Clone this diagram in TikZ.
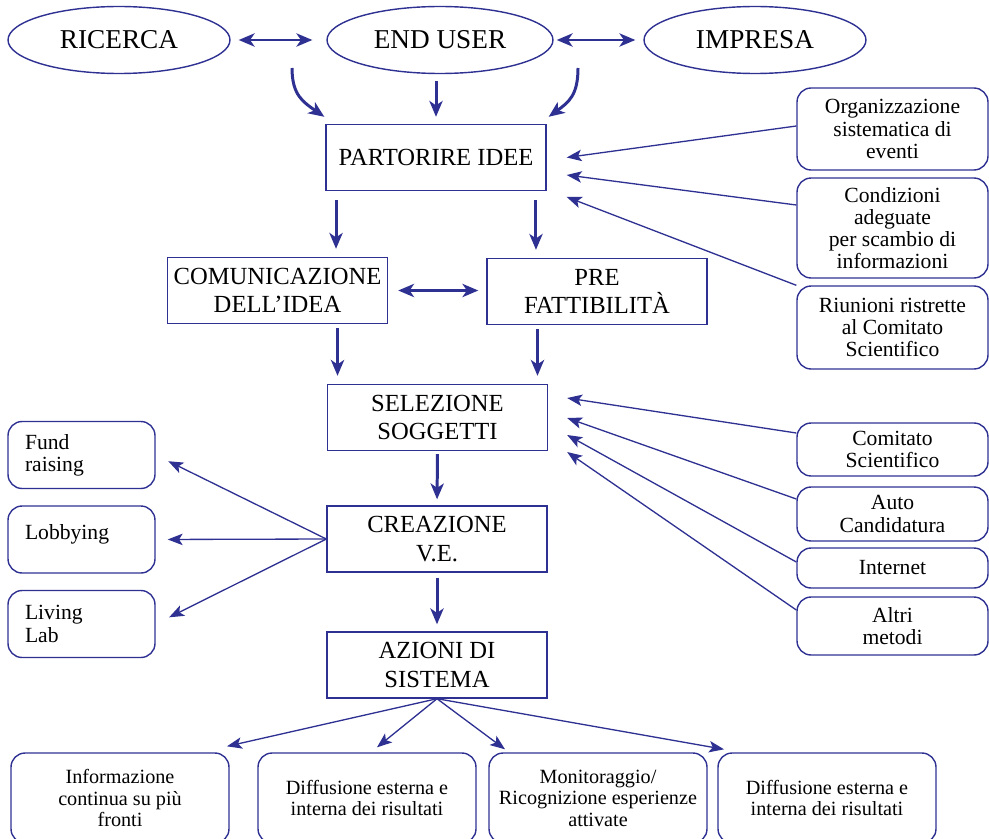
\documentclass[tikz,border=0pt]{standalone}
\usepackage{fontspec}
\setmainfont{Liberation Serif}
\usetikzlibrary{shapes.geometric,arrows.meta}
\definecolor{blu}{RGB}{46,49,146}

\begin{document}
\begin{tikzpicture}[x=0.02cm,y=-0.02cm,
    ovale/.style={ellipse, draw=blu, line width=0.8pt, minimum width=4.44cm, minimum height=1.34cm, font=\fontsize{15.5}{17}\selectfont},
    blocco/.style={rectangle, draw=blu, line width=0.8pt, fill=white, minimum width=4.4cm, minimum height=1.32cm, align=center, font=\fontsize{14}{16}\selectfont},
    laterale/.style={rectangle, rounded corners=8pt, draw=blu, line width=0.8pt, minimum width=3.82cm, align=center, font=\fontsize{12.3}{12.6}\selectfont},
    sinistro/.style={laterale, minimum width=2.94cm, minimum height=1.34cm, text width=2.26cm, align=left},
    fondo/.style={laterale, minimum width=4.36cm, minimum height=1.8cm, font=\fontsize{11.5}{12.2}\selectfont},
    freccia/.style={blu, line width=1.7pt, -{Stealth[length=9pt,width=7.5pt,inset=2.5pt]}},
    doppia/.style={blu, line width=1.7pt, {Stealth[length=9pt,width=7.5pt,inset=2.5pt]}-{Stealth[length=9pt,width=7.5pt,inset=2.5pt]}},
    sottile/.style={blu, line width=0.75pt, -{Stealth[length=8.5pt,width=6.5pt,inset=2pt]}}]
    \clip (0,0) rectangle (989,838);

    % Nodi
    \node[ovale] (ricerca) at (119,40) {RICERCA};
    \node[ovale, minimum width=4.52cm] (enduser) at (440,40) {END USER};
    \node[ovale] (impresa) at (755,40) {IMPRESA};

    \node[blocco] (partorire) at (436,157.5) {PARTORIRE IDEE};
    \node[blocco] (comunicazione) at (277.5,290.5) {COMUNICAZIONE\\DELL’IDEA};
    \node[blocco] (prefattibilita) at (597,291.5) {PRE\\FATTIBILITÀ};
    \node[blocco] (selezione) at (437.5,417.5) {SELEZIONE\\SOGGETTI};
    \node[blocco] (creazione) at (437,539) {CREAZIONE\\V.E.};
    \node[blocco] (azioni) at (437,665) {AZIONI DI\\SISTEMA};

    \node[laterale, minimum height=1.64cm] (organizzazione) at (892.5,129) {Organizzazione\\sistematica di\\eventi};
    \node[laterale, minimum height=2cm] (condizioni) at (892.5,228) {Condizioni\\adeguate\\per scambio di\\informazioni};
    \node[laterale, minimum height=1.66cm] (riunioni) at (892.5,327.5) {Riunioni ristrette\\al Comitato\\Scientifico};

    \node[laterale, minimum height=1.06cm] (comitato) at (892.5,449.5) {Comitato\\Scientifico};
    \node[laterale, minimum height=1.08cm] (auto) at (892.5,514) {Auto\\Candidatura};
    \node[laterale, minimum height=0.8cm] (internet) at (892.5,568) {Internet};
    \node[laterale, minimum height=1.16cm] (altri) at (892.5,626) {Altri\\metodi};

    \node[sinistro] (fund) at (81.5,455) {Fund\\raising};
    \node[sinistro] (lobbying) at (81.5,539.5) {\raisebox{0.3cm}{Lobbying}};
    \node[sinistro] (living) at (81.5,624) {Living\\Lab};

    \node[fondo] (informazione) at (120,798) {Informazione\\continua su più\\fronti};
    \node[fondo] (diffusioneA) at (367,798) {Diffusione esterna e\\interna dei risultati};
    \node[fondo] (monitoraggio) at (598,798) {Monitoraggio/\\Ricognizione esperienze\\attivate};
    \node[fondo] (diffusioneB) at (827,798) {Diffusione esterna e\\interna dei risultati};

    \coordinate (curvaS) at (292,68);
    \coordinate (curvaD) at (578,68);

    % Archi
    \draw[doppia, shorten <=0.16cm, shorten >=0.28cm] (ricerca.east) -- (enduser.west); % RICERCA - END USER
    \draw[doppia, shorten <=0.06cm, shorten >=0.16cm] (enduser.east) -- (impresa.west); % END USER - IMPRESA
    \draw[freccia] (curvaS) .. controls (292,95) and (303,102) .. ([xshift=-0.02cm,yshift=0.14cm]partorire.north west);
    \draw[freccia] (curvaD) .. controls (578,95) and (569,102) .. ([xshift=0.04cm,yshift=0.14cm]partorire.north east);
    \draw[freccia, shorten <=0.14cm, shorten >=0.14cm] (partorire.north |- enduser.south) -- (partorire.north);

    \draw[freccia, shorten <=0.18cm, shorten >=0.16cm] ([xshift=-2cm]partorire.south) -- ([xshift=-2cm]partorire.south |- comunicazione.north);
    \draw[freccia, shorten <=0.18cm, shorten >=0.16cm] ([xshift=2cm]partorire.south) -- ([xshift=2cm]partorire.south |- prefattibilita.north);
    \draw[doppia, shorten <=0.2cm, shorten >=0.16cm] (comunicazione.east) -- (comunicazione.east -| prefattibilita.west);
    \draw[freccia, shorten <=0.08cm, shorten >=0.16cm] ([xshift=-2cm]selezione.north |- comunicazione.south) -- ([xshift=-2cm]selezione.north);
    \draw[freccia, shorten <=0.08cm, shorten >=0.16cm] ([xshift=2cm]selezione.north |- prefattibilita.south) -- ([xshift=2cm]selezione.north);
    \draw[freccia, shorten <=0.06cm, shorten >=0.12cm] (selezione.south) -- (creazione.north);
    \draw[freccia, shorten <=0.1cm, shorten >=0.14cm] (creazione.south) -- (azioni.north);

    \draw[sottile] ([yshift=0.06cm]organizzazione.west) -- ([xshift=0.4cm]partorire.east);
    \draw[sottile] ([yshift=0.46cm]condizioni.west) -- ([xshift=0.4cm,yshift=-0.35cm]partorire.east);
    \draw[sottile] (riunioni.north west) -- ([xshift=0.4cm,yshift=-0.79cm]partorire.east);

    \draw[sottile] ([yshift=0.33cm]comitato.west) -- ([xshift=0.38cm,yshift=0.39cm]selezione.east);
    \draw[sottile] ([yshift=0.3cm]auto.west) -- ([xshift=0.38cm,yshift=-0.01cm]selezione.east);
    \draw[sottile] ([yshift=0.12cm]internet.west) -- ([xshift=0.38cm,yshift=-0.35cm]selezione.east);
    \draw[sottile] ([yshift=0.32cm]altri.west) -- ([xshift=0.38cm,yshift=-0.69cm]selezione.east);

    \draw[sottile, shorten >=0.28cm] (creazione.west) -- (fund.east);
    \draw[sottile, shorten >=0.24cm] (creazione.west) -- (lobbying.east);
    \draw[sottile, shorten >=0.3cm] (creazione.west) -- (living.east);

    \draw[sottile] (azioni.south) -- ([xshift=2.14cm,yshift=0.12cm]informazione.north);
    \draw[sottile] (azioni.south) -- ([xshift=0.2cm,yshift=0.1cm]diffusioneA.north);
    \draw[sottile] (azioni.south) -- ([xshift=-1.86cm,yshift=0.06cm]monitoraggio.north);
    \draw[sottile] (azioni.south) -- ([xshift=-2.06cm,yshift=0.06cm]diffusioneB.north);

\end{tikzpicture}
\end{document}
